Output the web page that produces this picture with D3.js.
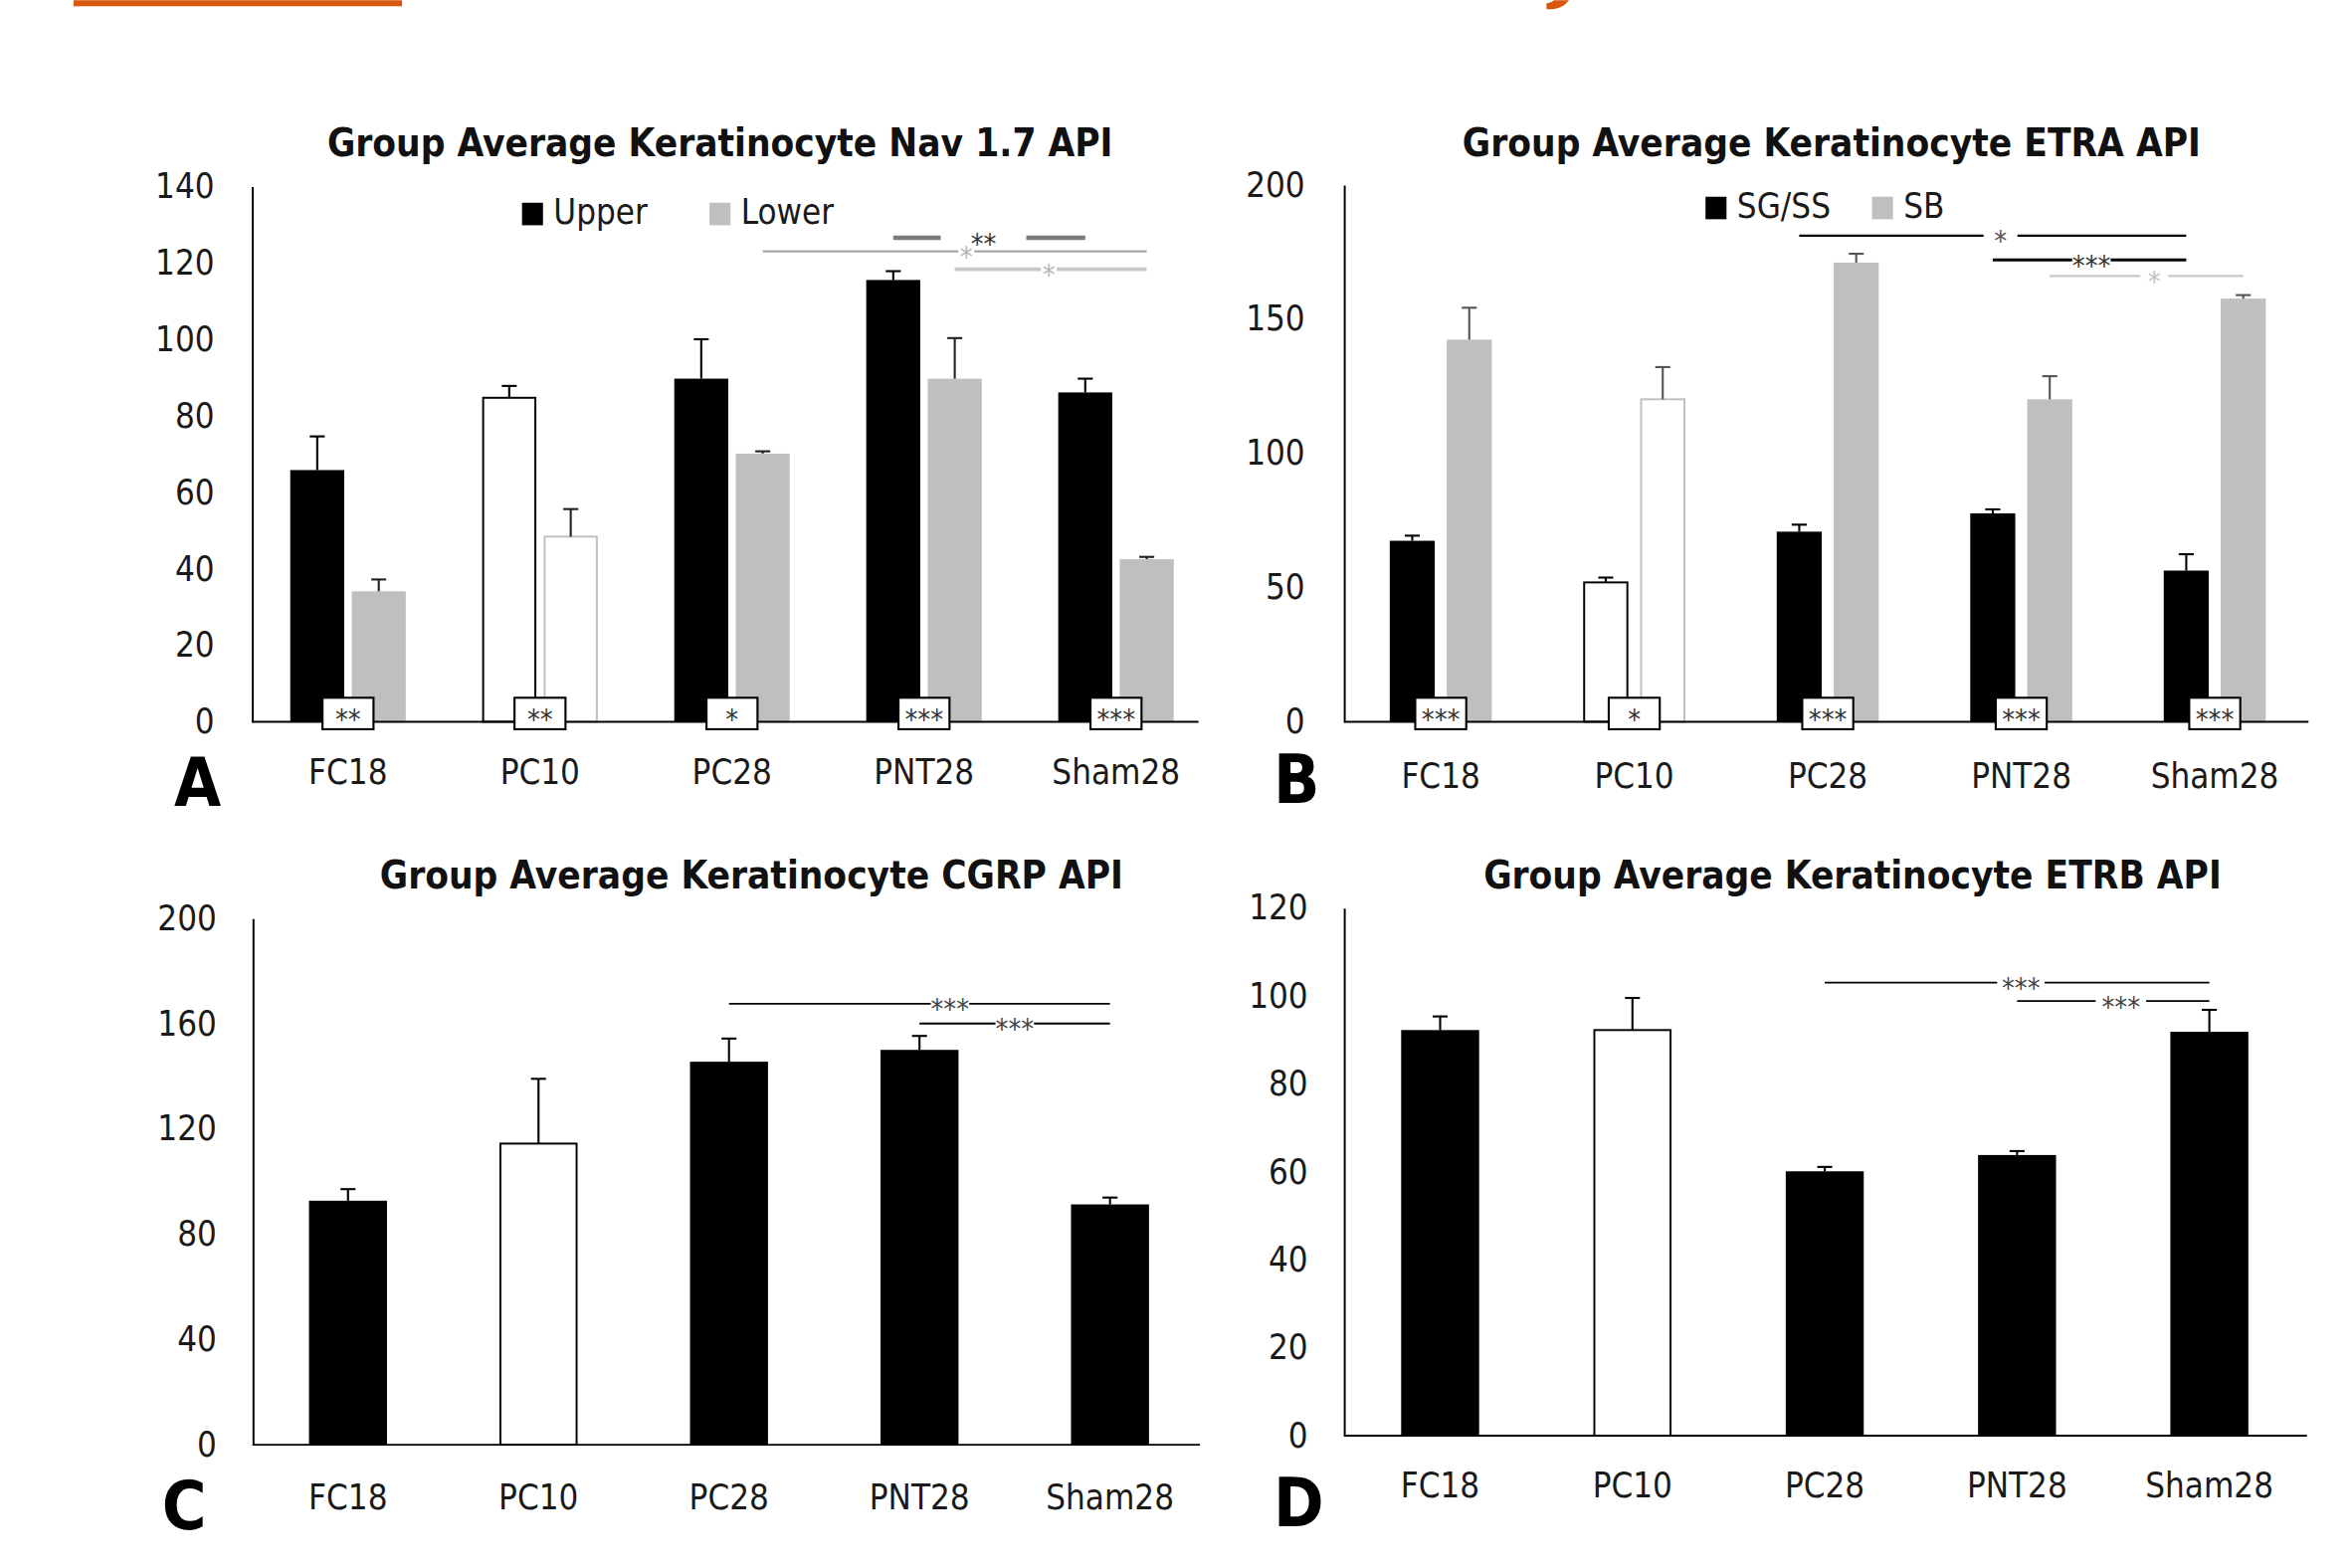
<!DOCTYPE html>
<html>
<head>
<meta charset="utf-8">
<script src="https://cdn.jsdelivr.net/npm/d3@7"></script>
<style>
  body { margin: 0; background: #fff; }
  text { font-family: "Liberation Sans Narrow", "DejaVu Sans Condensed", sans-serif; }
</style>
</head>
<body>
<svg id="chart" width="2364" height="1576" viewBox="0 0 1568 1045"></svg>
<script>
// groups on every x axis
const categories = ["FC18", "PC10", "PC28", "PNT28", "Sham28"];
const hollowGroups = ["PC10"];

// A: Nav 1.7
const navUpper = [65.8, 84.7, 89.7, 115.5, 86.1];
const navUpperErr = [8.8, 3.1, 10.3, 2.3, 3.6];
const navLower = [34.1, 48.4, 70.1, 89.7, 42.5];
const navLowerErr = [3.1, 7.2, 0.6, 10.6, 0.6];
const navSig = ["**", "**", "*", "***", "***"];
const navBrackets = [
  {a: "PNT28", ka: 0, b: "Sham28", kb: 0, level: 126.5, label: "**"},
  {a: "PC28", ka: 1, b: "Sham28", kb: 1, level: 123, label: "*"},
  {a: "PNT28", ka: 1, b: "Sham28", kb: 1, level: 118.3, label: "*"}
];

// B: ETRA
const etraSG = [67.4, 51.9, 70.8, 77.6, 56.3];
const etraSGErr = [1.9, 1.8, 2.6, 1.5, 6.1];
const etraSB = [142.3, 120.1, 171.0, 120.1, 157.6];
const etraSBErr = [11.9, 12.0, 3.3, 8.6, 1.3];
const etraSig = ["***", "*", "***", "***", "***"];
const etraBrackets = [
  {a: "PC28", ka: 0, b: "Sham28", kb: 0, level: 181, label: "*"},
  {a: "PNT28", ka: 0, b: "Sham28", kb: 0, level: 172, label: "***"},
  {a: "PNT28", ka: 1, b: "Sham28", kb: 1, level: 166, label: "*"}
];

// C: CGRP
const cgrp = [92.7, 114.4, 145.5, 150.0, 91.3];
const cgrpErr = [4.4, 24.6, 8.8, 5.3, 2.6];
const cgrpBrackets = [
  {a: "PC28", ka: 0, b: "Sham28", kb: 0, level: 167.5, label: "***"},
  {a: "PNT28", ka: 0, b: "Sham28", kb: 0, level: 160, label: "***"}
];

// D: ETRB
const etrb = [92.2, 92.2, 60.1, 63.8, 91.8];
const etrbErr = [3.1, 7.3, 1.0, 0.9, 5.0];
const etrbBrackets = [
  {a: "PC28", ka: 0, b: "Sham28", kb: 0, level: 103, label: "***"},
  {a: "PNT28", ka: 0, b: "Sham28", kb: 0, level: 98.8, label: "***"}
];

const BLACK = "#000";
const GREY = "#bfbfbf";
const ORANGE = "#d9560e";
const STAR_SIZE = 19;

const svg = d3.select("#chart");
svg.append("rect").attr("width", 1568).attr("height", 1045).attr("fill", "#fff");

// remnants of the slide header cut off at the top
svg.append("rect").attr("x", 49).attr("y", 0).attr("width", 219).attr("height", 4).attr("fill", ORANGE);
svg.append("path").attr("d", "M1036,0 L1046,0 C1043,4 1039,6 1033,6 L1031,6 L1031,2 C1033,2 1035,1 1036,0 Z")
  .attr("fill", ORANGE);

function drawPanel(p) {
  const g = svg.append("g");
  const x = d3.scaleBand().domain(categories).range([p.x0, p.x1]);
  const y = d3.scaleLinear().domain([0, p.yMax]).range([p.y0, p.yTop]);
  const sub = d3.scaleBand().domain(d3.range(p.series.length)).range([0, p.groupWidth]).paddingInner(p.innerPad);
  const barX = (c, k) => x(c) + x.bandwidth() / 2 - p.groupWidth / 2 + sub(k);
  const barCx = (c, k) => barX(c, k) + sub.bandwidth() / 2;

  // bars + error bars
  p.series.forEach((s, k) => {
    const rows = categories.map((c, i) => ({c, v: s.values[i], e: s.errs[i]}));
    const hollow = d => hollowGroups.includes(d.c);
    g.append("g").selectAll("rect").data(rows).join("rect")
      .attr("x", d => barX(d.c, k) + (hollow(d) ? 0.6 : 0))
      .attr("width", d => sub.bandwidth() - (hollow(d) ? 1.2 : 0))
      .attr("y", d => y(d.v))
      .attr("height", d => p.y0 - y(d.v))
      .attr("fill", d => hollow(d) ? "#fff" : s.fill)
      .attr("stroke", d => hollow(d) ? s.fill : "none")
      .attr("stroke-width", 1.3);
    const err = g.append("g").attr("stroke", s.errColor).attr("stroke-width", 1.4);
    err.selectAll("line.v").data(rows).join("line").attr("class", "v")
      .attr("x1", d => barCx(d.c, k)).attr("x2", d => barCx(d.c, k))
      .attr("y1", d => y(d.v)).attr("y2", d => y(d.v + d.e));
    err.selectAll("line.cap").data(rows).join("line").attr("class", "cap")
      .attr("x1", d => barCx(d.c, k) - 5).attr("x2", d => barCx(d.c, k) + 5)
      .attr("y1", d => y(d.v + d.e)).attr("y2", d => y(d.v + d.e));
  });

  // axes
  g.append("g").attr("transform", `translate(${p.x0},0)`)
    .call(d3.axisLeft(y).tickValues(p.ticks).tickSize(0).tickPadding(p.tickPad))
    .call(a => a.select(".domain").attr("stroke", BLACK).attr("stroke-width", 1.3))
    .call(a => a.selectAll("text").attr("font-size", 23).attr("fill", "#1a1a1a"));
  g.append("g").attr("transform", `translate(0,${p.y0})`)
    .call(d3.axisBottom(x).tickSize(0).tickPadding(p.catPad))
    .call(a => a.select(".domain").attr("d", `M${p.x0},0H${p.axisEnd}`).attr("stroke", BLACK).attr("stroke-width", 1.3))
    .call(a => a.selectAll("text").attr("font-size", 23).attr("fill", "#1a1a1a"));

  // within-group significance boxes
  if (p.sig) {
    const box = g.append("g").selectAll("g").data(categories).join("g")
      .attr("transform", c => `translate(${x(c) + x.bandwidth() / 2},${p.y0})`);
    box.append("rect").attr("x", -17).attr("y", -16).attr("width", 34).attr("height", 21)
      .attr("fill", "#fff").attr("stroke", BLACK).attr("stroke-width", 1.4);
    box.append("text").attr("text-anchor", "middle").attr("y", -5.5 + 0.54 * STAR_SIZE)
      .attr("font-size", STAR_SIZE).attr("fill", "#333").text((c, i) => p.sig[i]);
  }

  // between-group brackets
  p.brackets.forEach((b, i) => {
    const st = p.bracketStyle[i];
    const xa = barCx(b.a, b.ka), xb = barCx(b.b, b.kb), yy = y(b.level);
    const xm = xa + (xb - xa) * st.frac;
    const t = g.append("text").attr("x", xm).attr("y", yy + 0.54 * STAR_SIZE).attr("text-anchor", "middle")
      .attr("font-size", STAR_SIZE).attr("fill", st.textColor).text(b.label);
    const w = t.node().getComputedTextLength();
    [[xa, xm - w / 2 - st.gap], [xm + w / 2 + st.gap, xb]].forEach(([u, v]) => {
      g.append("line").attr("x1", u).attr("x2", v).attr("y1", yy).attr("y2", yy)
        .attr("stroke", st.color).attr("stroke-width", st.width);
    });
  });

  // legend
  if (p.legend) {
    p.legend.forEach((l, i) => {
      g.append("rect").attr("x", l.x).attr("y", p.legendY - 14).attr("width", 14).attr("height", 15)
        .attr("fill", p.series[i].fill);
      g.append("text").attr("x", l.x + 21).attr("y", p.legendY).attr("font-size", 23)
        .attr("fill", "#1a1a1a").text(l.name);
    });
  }

  g.append("text").attr("x", p.titleX).attr("y", p.titleY).attr("text-anchor", "middle")
    .attr("font-size", 25.5).attr("font-weight", "bold").attr("fill", "#111").text(p.title);
  g.append("text").attr("x", p.letterX).attr("y", p.letterY).attr("font-size", 45)
    .attr("font-weight", "bold").attr("fill", "#000").text(p.letter);
}

drawPanel({
  title: "Group Average Keratinocyte Nav 1.7 API", titleX: 480, titleY: 104,
  letter: "A", letterX: 116, letterY: 537,
  x0: 168, x1: 808, axisEnd: 799, y0: 481, yTop: 124, yMax: 140,
  ticks: d3.range(0, 141, 20), tickPad: 25, catPad: 25,
  groupWidth: 77, innerPad: 0.122,
  series: [
    {values: navUpper, errs: navUpperErr, fill: BLACK, errColor: BLACK},
    {values: navLower, errs: navLowerErr, fill: GREY, errColor: "#222"}
  ],
  sig: navSig,
  brackets: navBrackets,
  bracketStyle: [
    {frac: 0.47, gap: 20, color: "#7a7a7a", width: 3, textColor: "#333"},
    {frac: 0.53, gap: 1, color: "#a6a6a6", width: 1.5, textColor: "#b5b5b5"},
    {frac: 0.49, gap: 1, color: "#c8c8c8", width: 2.5, textColor: "#b5b5b5"}
  ],
  legend: [{x: 348, name: "Upper"}, {x: 473, name: "Lower"}], legendY: 149
});

drawPanel({
  title: "Group Average Keratinocyte ETRA API", titleX: 1221, titleY: 104,
  letter: "B", letterX: 849, letterY: 535,
  x0: 896, x1: 1541, axisEnd: 1539, y0: 481, yTop: 123, yMax: 200,
  ticks: d3.range(0, 201, 50), tickPad: 26, catPad: 28,
  groupWidth: 68, innerPad: 0.21,
  series: [
    {values: etraSG, errs: etraSGErr, fill: BLACK, errColor: BLACK},
    {values: etraSB, errs: etraSBErr, fill: GREY, errColor: "#555"}
  ],
  sig: etraSig,
  brackets: etraBrackets,
  bracketStyle: [
    {frac: 0.52, gap: 7, color: BLACK, width: 1.5, textColor: "#555"},
    {frac: 0.51, gap: 0, color: BLACK, width: 2, textColor: "#333"},
    {frac: 0.54, gap: 5, color: "#c8c8c8", width: 1.5, textColor: "#c0c0c0"}
  ],
  legend: [{x: 1137, name: "SG/SS"}, {x: 1248, name: "SB"}], legendY: 145
});

drawPanel({
  title: "Group Average Keratinocyte CGRP API", titleX: 501, titleY: 592,
  letter: "C", letterX: 108, letterY: 1019,
  x0: 168.5, x1: 803.5, axisEnd: 800, y0: 963, yTop: 612, yMax: 200,
  ticks: d3.range(0, 201, 40), tickPad: 24, catPad: 27,
  groupWidth: 52, innerPad: 0,
  series: [{values: cgrp, errs: cgrpErr, fill: BLACK, errColor: BLACK}],
  brackets: cgrpBrackets,
  bracketStyle: [
    {frac: 0.58, gap: 0, color: BLACK, width: 1.2, textColor: "#444"},
    {frac: 0.5, gap: 0, color: BLACK, width: 1.2, textColor: "#444"}
  ]
});

drawPanel({
  title: "Group Average Keratinocyte ETRB API", titleX: 1235, titleY: 592,
  letter: "D", letterX: 849, letterY: 1017,
  x0: 896, x1: 1537, axisEnd: 1538, y0: 957, yTop: 605, yMax: 120,
  ticks: d3.range(0, 121, 20), tickPad: 24, catPad: 25,
  groupWidth: 52, innerPad: 0,
  series: [{values: etrb, errs: etrbErr, fill: BLACK, errColor: BLACK}],
  brackets: etrbBrackets,
  bracketStyle: [
    {frac: 0.51, gap: 3, color: BLACK, width: 1.2, textColor: "#444"},
    {frac: 0.54, gap: 4, color: BLACK, width: 1.2, textColor: "#444"}
  ]
});
</script>
</body>
</html>
